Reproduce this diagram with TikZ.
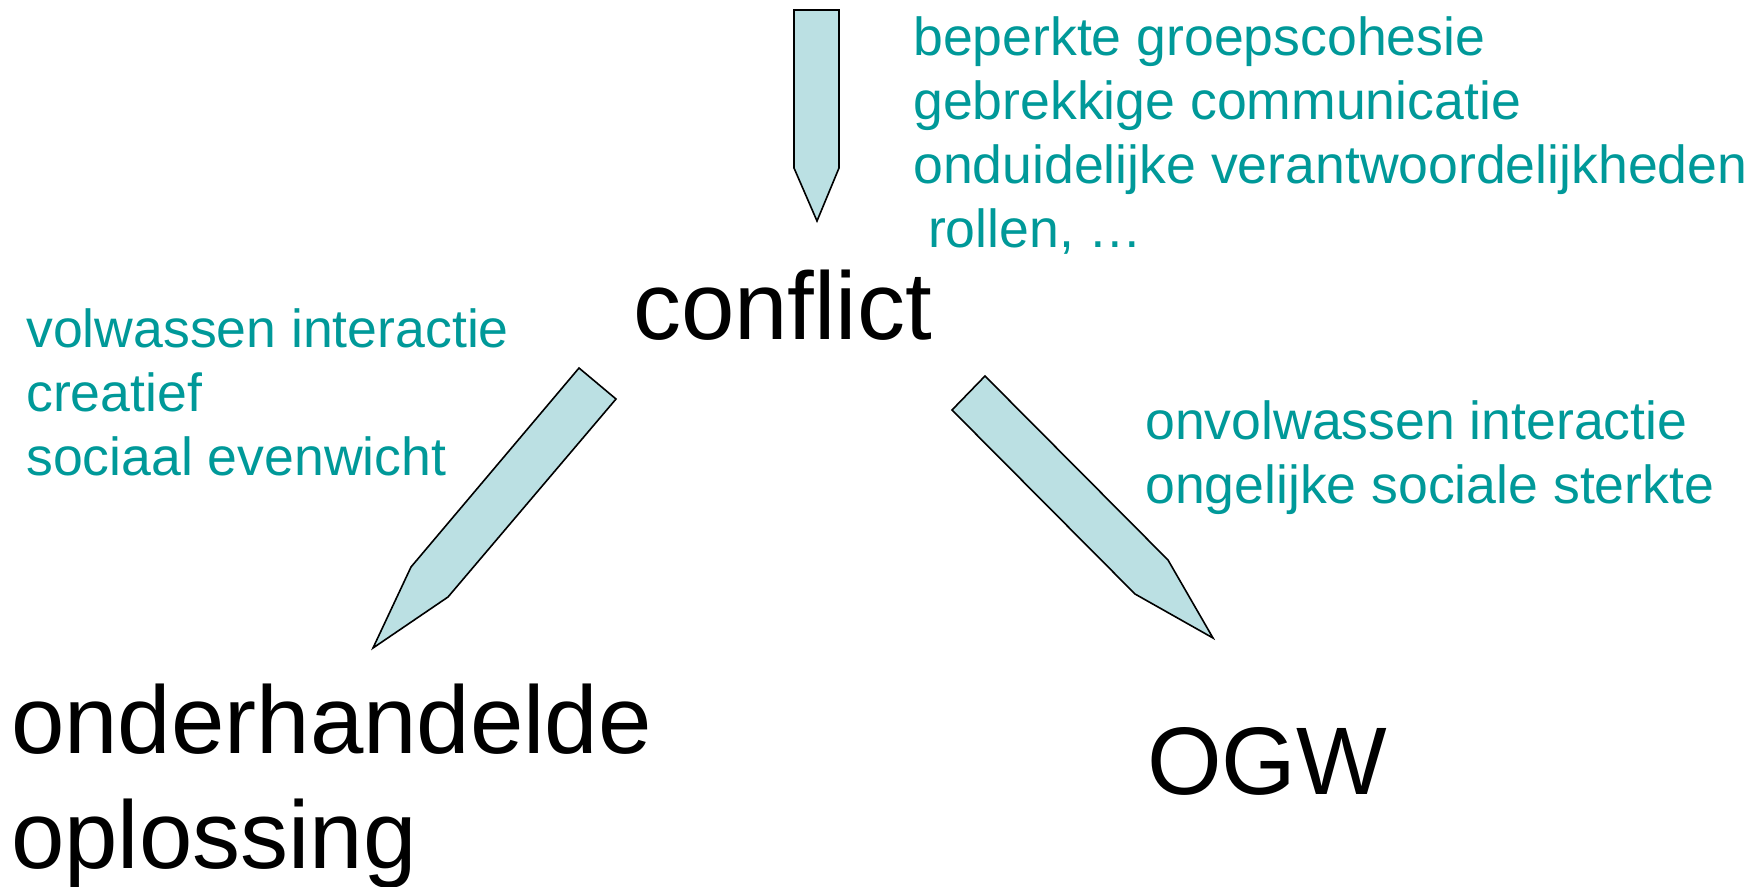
\documentclass[tikz,border=0pt]{standalone}
\usepackage{fontspec}
\setmainfont{Liberation Sans}
\definecolor{tealtext}{RGB}{0,153,153}
\definecolor{arrowfill}{RGB}{187,224,227}
\begin{document}
\begin{tikzpicture}[x=1pt,y=-1pt,
  small/.style={anchor=base west,inner sep=0pt,text=tealtext,font=\fontsize{53.6}{64}\selectfont},
  big/.style={anchor=base west,inner sep=0pt,text=black,font=\fontsize{96}{115}\selectfont},
  blockarrow/.style={draw=black,line width=1.6pt,fill=arrowfill,line join=miter}]
\useasboundingbox[fill=white] (0,0) rectangle (1760,886);

% block arrows
\draw[blockarrow] (794,10) -- (839,10) -- (839,168) -- (817,221) -- (794,168) -- cycle;
\draw[blockarrow] (579,368) -- (616,399) -- (448,597) -- (373,648) -- (411,567) -- cycle;
\draw[blockarrow] (985,376) -- (1168,560) -- (1213,638) -- (1135,594) -- (952,410) -- cycle;

% main terms
\node[big] (conflict) at (633,339) {conflict};
\node[big] (onder1) at (11,753) {onderhandelde};
\node[big] (onder2) at (11,868) {oplossing};
\node[big] (ogw) at (1147,794) {OGW};

% causes
\node[small] (c1) at (913,55) {beperkte groepscohesie};
\node[small] (c2) at (913,119) {gebrekkige communicatie};
\node[small] (c3) at (913,183) {onduidelijke verantwoordelijkheden};
\node[small] (c4) at (913,247) {\ rollen, …};

% left conditions
\node[small] (l1) at (26,347) {volwassen interactie};
\node[small] (l2) at (26,411) {creatief};
\node[small] (l3) at (26,475) {sociaal evenwicht};

% right conditions
\node[small] (r1) at (1145,439) {onvolwassen interactie};
\node[small] (r2) at (1145,503) {ongelijke sociale sterkte};
\end{tikzpicture}
\end{document}
